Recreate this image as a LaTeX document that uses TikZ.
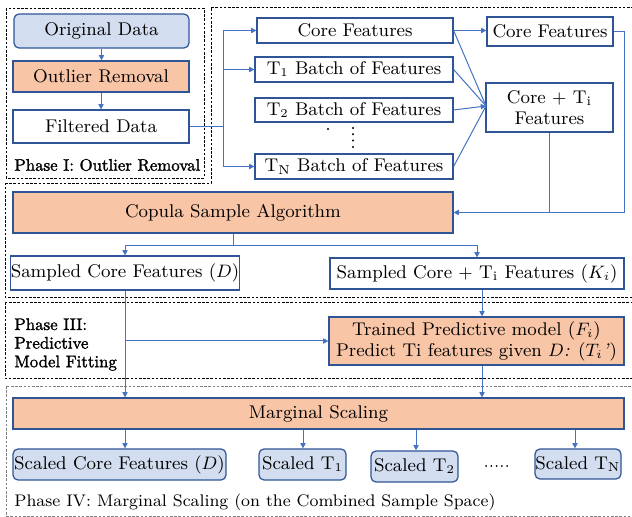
\documentclass[tikz,border=0pt]{standalone}
\usepackage{fontspec}
\newfontfamily\fbfont{lmroman10-regular.otf}[FakeBold=1.6]
\usetikzlibrary{arrows.meta}
\definecolor{bfill}{HTML}{D2DDF0}
\definecolor{ofill}{HTML}{F8C5A6}
\definecolor{bord}{HTML}{2F5597}
\definecolor{conn}{HTML}{4472C4}
\begin{document}
\begin{tikzpicture}[x=0.5pt,y=-0.5pt,
  box/.style={draw=bord,line width=0.6pt,inner sep=0pt,align=center,
    font=\fontsize{9.2}{10.5}\selectfont},
  bluebox/.style={box,fill=bfill,rounded corners=2.5pt},
  orbox/.style={box,fill=ofill},
  ln/.style={draw=conn,line width=0.5pt},
  arr/.style={ln,-{Triangle[length=2.6pt,width=2.6pt]}},
  ph/.style={draw=black,line width=0.45pt,dash pattern=on 1.3pt off 0.8pt},
  lab/.style={inner sep=0pt,anchor=west,font=\fbfont\fontsize{8.4}{9.3}\selectfont,align=left},
  dotm/.style={fill=black}]
\useasboundingbox (0,0) rectangle (632,517);
\clip (0,0) rectangle (632,517);
\fill[white] (0,0) rectangle (632,517);
% phase outlines
\draw[ph] (6,8) rectangle (204,178);
\draw[ph] (5,183) -- (211,183) -- (211,7) -- (640,7) -- (640,297) -- (5,297) -- cycle;
\draw[ph] (5,302) rectangle (640,378);
\draw[ph,draw=gray] (6,386) rectangle (640,516);
% nodes
\node[bluebox,minimum width=87.5pt,minimum height=17pt] (orig) at (101.5,31) {Original Data};
\node[orbox,minimum width=88pt,minimum height=15.5pt] (outl) at (101,76.5) {Outlier Removal};
\node[box,minimum width=88pt,minimum height=16.5pt] (filt) at (101,126.5) {Filtered Data};
\node[box,minimum width=98pt,minimum height=12.5pt] (core) at (355,30.5) {Core Features};
\node[box,minimum width=99pt,minimum height=12.5pt] (t1) at (354,69.5) {T$_1$ Batch of Features};
\node[box,minimum width=99pt,minimum height=12pt] (t2) at (354,110) {T$_2$ Batch of Features};
\node[box,minimum width=99pt,minimum height=12.5pt] (tn) at (354,166.5) {T$_\mathrm{N}$ Batch of Features};
\node[box,minimum width=63pt,minimum height=14.5pt] (core2) at (550,31.5) {Core Features};
\node[box,minimum width=63.5pt,minimum height=24.5pt] (coreti) at (549.5,107.5) {Core $+$ T$_\mathrm{i}$\\Features};
\node[orbox,minimum width=220pt,minimum height=20.5pt] (copula) at (233,212.5) {Copula Sample Algorithm};
\node[box,minimum width=112pt,minimum height=17pt] (sampD) at (125,273) {Sampled Core Features ($D$)};
\node[box,minimum width=147pt,minimum height=15.5pt] (sampK) at (477,273.5) {Sampled Core $+$ T$_\mathrm{i}$ Features ($K_i$)};
\node[orbox,minimum width=147.5pt,minimum height=24pt] (trained) at (476.5,341) {Trained Predictive model ($F_i$)\\Predict Ti features given $D$\textit{:} ($T_i$\textit{'})};
\node[orbox,minimum width=305.5pt,minimum height=15.5pt] (marg) at (318.5,413.5) {Marginal Scaling};
\node[bluebox,minimum width=106.5pt,minimum height=15.5pt] (sD) at (119.5,464.5) {Scaled Core Features ($D$)};
\node[bluebox,minimum width=43.5pt,minimum height=15.5pt] (sT1) at (302.5,464.5) {Scaled T$_1$};
\node[bluebox,minimum width=43.5pt,minimum height=15.5pt] (sT2) at (414.5,466.5) {Scaled T$_2$};
\node[bluebox,minimum width=43pt,minimum height=15pt] (sTN) at (578,464) {Scaled T$_\mathrm{N}$};
% ellipsis dots
\foreach \dx in {486,491.3,496.6,501.9,507.2} \fill[dotm] (\dx,466) circle (0.5pt);
\fill[dotm] (328,129) circle (0.55pt);
\fill[dotm] (353,128) circle (0.55pt);
\fill[dotm] (353,134.3) circle (0.55pt);
\fill[dotm] (353,140.6) circle (0.55pt);
\fill[dotm] (353,147) circle (0.55pt);
% labels
\node[lab] (l1) at (14,165) {Phase I: Outlier Removal};
\node[lab] (l3) at (14,344.5) {Phase III:\\Predictive\\Model Fitting};
\node[inner sep=0pt,anchor=west,font=\fontsize{8.4}{10}\selectfont] (l4) at (14,502) {Phase IV: Marginal Scaling (on the Combined Sample Space)};
% connectors
\draw[arr] (orig.south) -- (orig.south |- outl.north);
\draw[arr] (outl.south) -- (outl.south |- filt.north);
\coordinate (br) at (223,127);
\draw[ln] (filt.east |- br) -- (br);
\draw[arr] (br) |- (core.west);
\draw[arr] (br) |- (t1.west);
\draw[arr] (br) |- (tn.west);
\draw[arr] (core.east) -- (core.east -| core2.west);
\coordinate (cv) at (486,106);
\draw[ln] (core.east) -- (cv);
\draw[ln] (t1.east) -- (cv);
\draw[arr] (t2.east) -- (cv);
\draw[ln] (tn.east) -- (cv);
\coordinate (rr) at (624,212.5);
\draw[arr] (core2.east) -| (rr) -- (copula.east);
\draw[ln] (coreti.south) -- (coreti.south |- rr);
\coordinate (cs) at (233,246);
\draw[ln] (copula.south) -- (cs);
\draw[arr] (cs) -| (sampD.north);
\draw[arr] (cs) -| (sampK.north);
\draw[arr] (sampD.south) -- (sampD.south |- marg.north);
\draw[arr] (sampD.south |- trained.west) -- (trained.west);
\coordinate (kx) at (482,0);
\draw[arr] (sampK.south -| kx) -- (trained.north -| kx);
\draw[arr] (trained.south -| kx) -- (marg.north -| kx);
\coordinate (a1) at (125,0);
\coordinate (a2) at (303,0);
\coordinate (a3) at (416,0);
\coordinate (a4) at (575,0);
\draw[arr] (marg.south -| a1) -- (sD.north -| a1);
\draw[arr] (marg.south -| a2) -- (sT1.north -| a2);
\draw[arr] (marg.south -| a3) -- (sT2.north -| a3);
\draw[arr] (marg.south -| a4) -- (sTN.north -| a4);
\end{tikzpicture}
\end{document}
